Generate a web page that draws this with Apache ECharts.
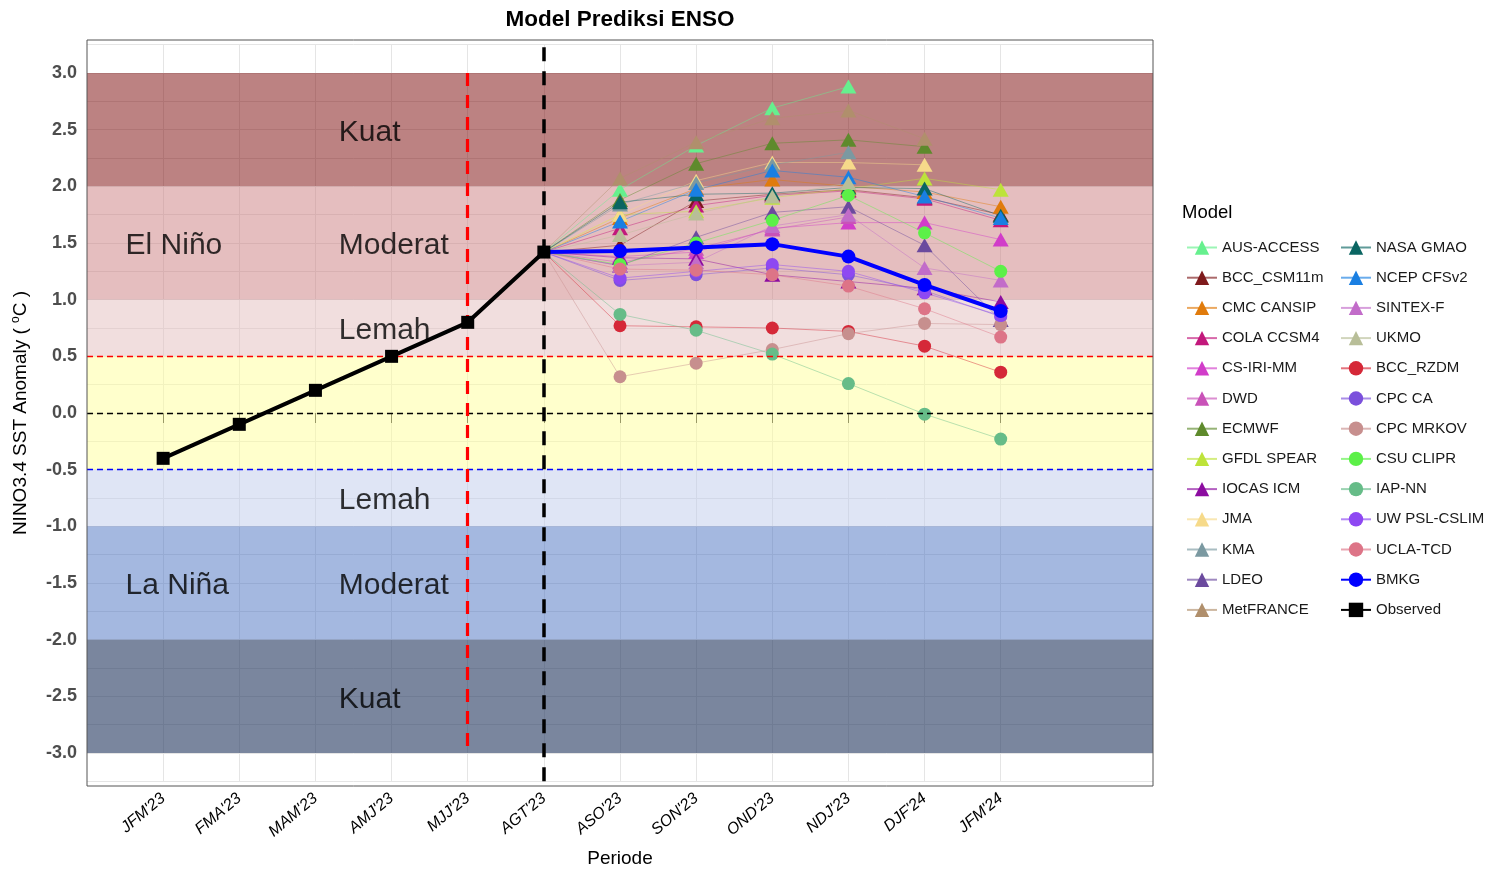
<!DOCTYPE html>
<html><head><meta charset="utf-8">
<script src="https://cdn.jsdelivr.net/npm/echarts@6/dist/echarts.min.js"></script>
<style>html,body{margin:0;padding:0;background:#fff}#c{width:1488px;height:869px}</style>
</head><body><div id="c"></div>
<script>
// ---- Data ----
const periods = ["JFM'23","FMA'23","MAM'23","AMJ'23","MJJ'23","AGT'23","ASO'23","SON'23","OND'23","NDJ'23","DJF'24","JFM'24"];
const observed = [-0.40, -0.10, 0.20, 0.50, 0.80, 1.42];
const startValue = 1.42; // AGT'23 observed, where forecasts begin
// forecasts: ASO'23, SON'23, OND'23, NDJ'23, DJF'24, JFM'24
const bmkg        = [1.43, 1.46, 1.49, 1.38, 1.13, 0.90];
const ausAccess   = [1.97, 2.36, 2.69, 2.88, null, null];
const bccCsm11m   = [1.48, 1.87, 1.93, 1.97, 1.90, 1.75];
const cmcCansip   = [1.72, 1.98, 2.06, 2.00, 1.95, 1.82];
const colaCcsm4   = [1.63, 1.83, 1.92, 1.96, 1.89, 1.70];
const csIriMm     = [1.38, 1.42, 1.63, 1.68, 1.68, 1.53];
const dwd         = [1.33, 1.45, 1.62, 1.73, null, null];
const ecmwf       = [1.88, 2.20, 2.38, 2.41, 2.35, null];
const gfdlSpear   = [1.75, 1.78, 1.90, 1.98, 2.07, 1.97];
const iocasIcm    = [1.37, 1.36, 1.22, 1.16, 1.10, 0.98];
const jma         = [1.75, 2.05, 2.21, 2.21, 2.19, null];
const kma         = [1.84, 2.03, 2.19, 2.30, null, null];
const ldeo        = [1.30, 1.55, 1.77, 1.82, 1.48, 0.82];
const metFrance   = [2.07, 2.39, 2.60, 2.67, 2.42, null];
const nasaGmao    = [1.86, 1.93, 1.94, 1.99, 1.98, 1.74];
const ncepCfsv2   = [1.69, 1.97, 2.14, 2.08, 1.91, 1.72];
const sintexF     = [1.30, 1.33, 1.65, 1.75, 1.28, 1.17];
const ukmo        = [1.57, 1.76, 1.91, 2.03, null, null];
const bccRzdm     = [0.77, 0.76, 0.75, 0.72, 0.59, 0.36];
const cpcCa       = [1.17, 1.22, 1.28, 1.22, 1.08, 0.85];
const cpcMrkov    = [0.32, 0.44, 0.56, 0.70, 0.79, 0.78];
const csuClipr    = [1.31, 1.50, 1.70, 1.92, 1.59, 1.25];
const iapNn       = [0.87, 0.73, 0.52, 0.26, -0.01, -0.23];
const uwPslCslim  = [1.19, 1.25, 1.31, 1.25, 1.06, 0.86];
const uclaTcd     = [1.27, 1.26, 1.22, 1.12, 0.92, 0.67];

const dynamicNames = ["AUS-ACCESS","BCC_CSM11m","CMC CANSIP","COLA CCSM4","CS-IRI-MM","DWD","ECMWF","GFDL SPEAR","IOCAS ICM","JMA","KMA","LDEO","MetFRANCE","NASA GMAO","NCEP CFSv2","SINTEX-F","UKMO"];
const dynamicValues = [ausAccess,bccCsm11m,cmcCansip,colaCcsm4,csIriMm,dwd,ecmwf,gfdlSpear,iocasIcm,jma,kma,ldeo,metFrance,nasaGmao,ncepCfsv2,sintexF,ukmo];
const statNames = ["BCC_RZDM","CPC CA","CPC MRKOV","CSU CLIPR","IAP-NN","UW PSL-CSLIM","UCLA-TCD"];
const statValues = [bccRzdm,cpcCa,cpcMrkov,csuClipr,iapNn,uwPslCslim,uclaTcd];

const bandEdges = [3, 2, 1, 0.5, -0.5, -1, -2, -3];
const regionLabels = [
  [3.3, 2.5, 'Kuat'], [0.5, 1.5, 'El Niño'], [3.3, 1.5, 'Moderat'], [3.3, 0.75, 'Lemah'],
  [3.3, -0.75, 'Lemah'], [0.5, -1.5, 'La Niña'], [3.3, -1.5, 'Moderat'], [3.3, -2.5, 'Kuat']
];

// ---- Styles ----
const dynColors = ['#66F08E','#7E1A1C','#E07B0C','#C2187C','#D13DC9','#C952B8','#5E8A2C','#BDE33A','#8C0CA0','#F6DA8A','#7B99A1','#6B4A9E','#B08F6C','#0A6562','#1A7FE2','#C26CC9','#B8BE98'];
const statColors = ['#D52838','#7B50DC','#C78F8E','#5CF048','#66BC88','#8E48F2','#DD7487'];
const bandColors = ['rgba(121,5,5,0.5)','rgba(203,125,127,0.5)','rgba(227,189,189,0.5)','rgba(255,255,153,0.5)','rgba(191,203,235,0.5)','rgba(73,113,193,0.5)','rgba(33,53,93,0.6)'];

function fcData(vals) {
  const d = [{ value: [6, startValue], symbol: 'none' }];
  vals.forEach((v, i) => { if (v !== null) d.push([7 + i, v]); });
  return d;
}

const series = [];
// bands + text labels + reference lines
series.push({
  type: 'scatter', xAxisIndex: 1, yAxisIndex: 0, silent: true, z: 1,
  symbolSize: 1, itemStyle: { color: 'rgba(0,0,0,0)' },
  data: regionLabels,
  label: { show: true, position: 'right', distance: 0, offset: [0, 3], formatter: p => p.data[2], fontSize: 30, color: '#000', fontFamily: 'Liberation Sans, Arial, sans-serif' },
  markArea: {
    silent: true,
    data: bandColors.map((c, i) => [{ yAxis: bandEdges[i], itemStyle: { color: c } }, { yAxis: bandEdges[i + 1] }])
  },
  markLine: {
    silent: true, symbol: 'none', label: { show: false },
    data: [
      { yAxis: 0.5, lineStyle: { color: '#FF0000', width: 1.3, type: [6, 4] } },
      { yAxis: 0, lineStyle: { color: '#000', width: 1.3, type: [6, 4] } },
      { yAxis: -0.5, lineStyle: { color: '#0000FF', width: 1.3, type: [6, 4] } },
      [{ coord: [5, 3], lineStyle: { color: '#FF0000', width: 3.2, type: [13, 9] } }, { coord: [5, -3] }],
      { xAxis: 6, lineStyle: { color: '#000', width: 3.5, type: [14, 10] } }
    ]
  }
});

dynamicNames.forEach((n, i) => series.push({
  name: n, type: 'line', xAxisIndex: 1, yAxisIndex: 0, z: 3,
  data: fcData(dynamicValues[i]),
  symbol: 'triangle', symbolSize: [16, 14], showSymbol: true,
  itemStyle: { color: dynColors[i] },
  lineStyle: { width: 0.7, opacity: 0.65, color: dynColors[i] },
  emphasis: { disabled: true }
}));
statNames.forEach((n, i) => series.push({
  name: n, type: 'line', xAxisIndex: 1, yAxisIndex: 0, z: 3,
  data: fcData(statValues[i]),
  symbol: 'circle', symbolSize: 13, showSymbol: true,
  itemStyle: { color: statColors[i] },
  lineStyle: { width: 0.7, opacity: 0.65, color: statColors[i] },
  emphasis: { disabled: true }
}));
series.push({
  name: 'BMKG', type: 'line', xAxisIndex: 1, yAxisIndex: 0, z: 5,
  data: fcData(bmkg), symbol: 'circle', symbolSize: 14,
  itemStyle: { color: '#0000FF' }, lineStyle: { width: 4, color: '#0000FF' },
  emphasis: { disabled: true }
});
series.push({
  name: 'Observed', type: 'line', xAxisIndex: 1, yAxisIndex: 0, z: 6,
  data: observed.map((v, i) => [i + 1, v]), symbol: 'rect', symbolSize: 13,
  itemStyle: { color: '#000' }, lineStyle: { width: 4, color: '#000' },
  emphasis: { disabled: true }
});

const allNames = dynamicNames.concat(statNames, ['BMKG', 'Observed']);
const legendCommon = {
  orient: 'vertical', itemWidth: 30, itemHeight: 18, itemGap: 15.2, padding: 0,
  textStyle: { fontSize: 15, color: '#1a1a1a', fontFamily: 'Liberation Sans, Arial, sans-serif' },
  selectedMode: false
};
const xCats = [''].concat(periods, ['', '']);
const inCat = (idx) => idx >= 1 && idx <= 12;

const option = {
  animation: false,
  backgroundColor: '#fff',
  textStyle: { fontFamily: 'Liberation Sans, Arial, sans-serif' },
  title: [
    { text: 'Model Prediksi ENSO', left: 620, top: 8, textAlign: 'center', padding: 0,
      textStyle: { fontSize: 22.5, fontWeight: 'bold', color: '#000' } },
    { text: 'Model', left: 1182, top: 203, padding: 0, textStyle: { fontSize: 18.5, fontWeight: 'normal', color: '#000' } }
  ],
  legend: [
    Object.assign({ left: 1186, top: 240, data: allNames.slice(0, 13) }, legendCommon),
    Object.assign({ left: 1340, top: 240, data: allNames.slice(13) }, legendCommon)
  ],
  grid: { left: 87, right: 335, top: 44.67, bottom: 87.67, containLabel: false, outerBoundsMode: 'none' },
  xAxis: [
    { type: 'category', data: xCats, boundaryGap: false,
      axisLine: { show: false },
      axisTick: { show: true, interval: inCat, length: 10, lineStyle: { color: '#333' } },
      axisLabel: { interval: inCat, rotate: 40, fontStyle: 'italic', fontSize: 16, color: '#000', margin: 15 },
      splitLine: { show: true, interval: inCat, lineStyle: { color: '#E5E5E5', width: 1 } },
      name: 'Periode', nameLocation: 'middle', nameGap: 68,
      nameTextStyle: { fontSize: 19, color: '#000' } },
    { type: 'value', min: 0, max: 14, show: false }
  ],
  yAxis: [{
    type: 'value', min: -3.25, max: 3.25, interval: 0.25,
    axisLine: { show: false }, axisTick: { show: false },
    axisLabel: {
      fontSize: 18, fontWeight: 'bold', color: '#4D4D4D', margin: 10,
      formatter: v => {
        const h = v * 2;
        if (Math.abs(h - Math.round(h)) > 1e-6 || Math.abs(v) > 3.0001) return '';
        if (Math.abs(v) < 1e-9) return '0.0';
        return v.toFixed(1);
      }
    },
    splitLine: { show: true, lineStyle: { color: '#E5E5E5', width: 1 } },
    name: 'NINO3.4 SST Anomaly ( {sup|o}C )', nameLocation: 'middle', nameGap: 55,
    nameTextStyle: { fontSize: 19, color: '#000', rich: { sup: { fontSize: 12, verticalAlign: 'top', padding: [0, 0, 10, 0] } } }
  }],
  graphic: [
    { type: 'rect', shape: { x: 87, y: 40, width: 1066, height: 746 }, silent: true, z: 100,
      style: { fill: 'none', stroke: '#555', lineWidth: 1 } }
  ],
  series: series
};

const chart = echarts.init(document.getElementById('c'), null, { renderer: 'canvas' });
chart.setOption(option);
</script>
</body></html>
